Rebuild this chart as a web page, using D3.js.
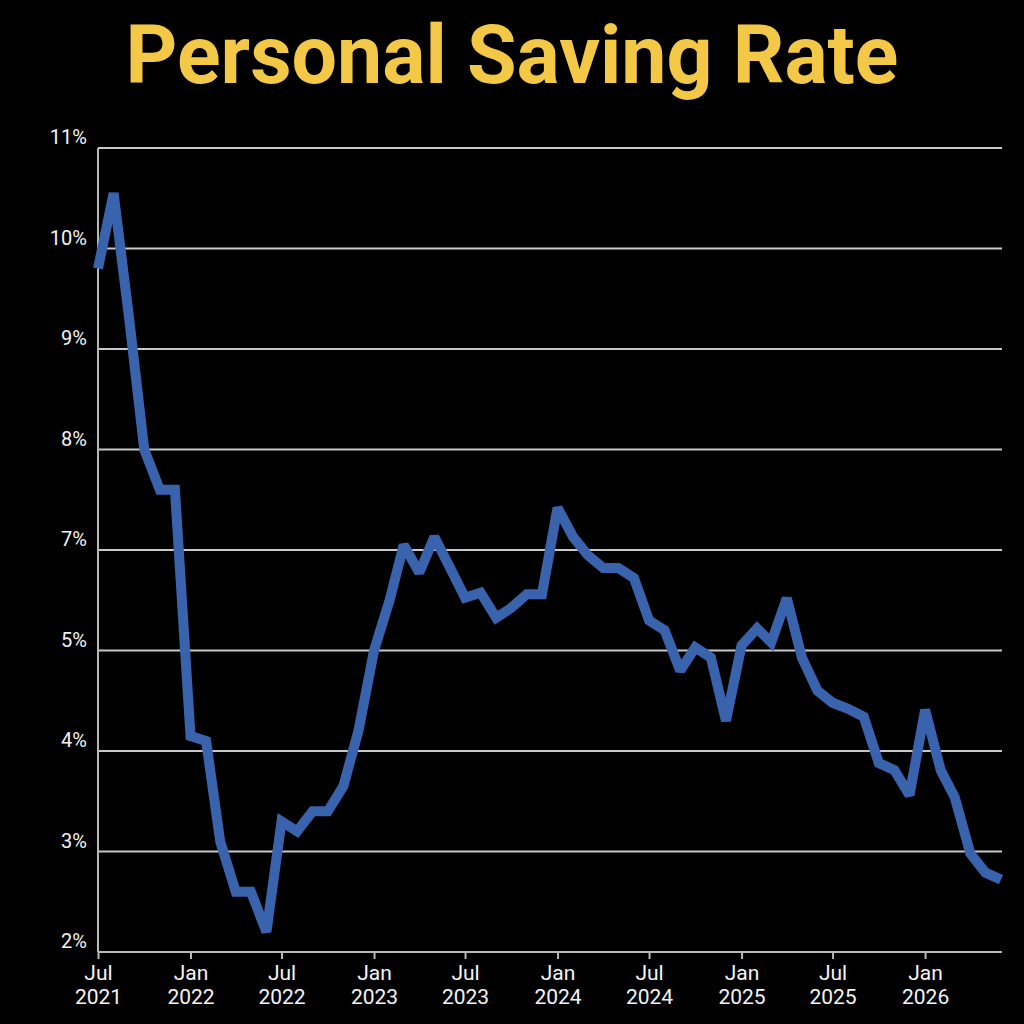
<!DOCTYPE html>
<html>
<head>
<meta charset="utf-8">
<script src="https://cdn.jsdelivr.net/npm/d3@7"></script>
<style>
  html, body { margin: 0; padding: 0; background: #000; }
  svg { display: block; }
</style>
</head>
<body>
<svg id="chart"></svg>
<script>
// data (monthly, Jul 2021 .. Jun 2026)
const startMonth = new Date(2021, 6, 1);
const endMonth = new Date(2026, 5, 1);
const savingRate = [
  9.8, 10.55, 9.3, 8.0, 7.6, 7.6, 4.15, 4.1, 3.1, 2.6, 2.6, 2.2,
  3.3, 3.2, 3.4, 3.4, 3.65, 4.2, 5.0, 6.0, 7.05, 6.55, 7.13, 6.65,
  6.05, 6.15, 5.65, 5.85, 6.12, 6.12, 7.42, 7.13, 6.9, 6.64, 6.64, 6.44,
  5.6, 5.4, 4.8, 5.06, 4.93, 4.3, 5.1, 5.44, 5.16, 6.04, 4.93, 4.6,
  4.48, 4.42, 4.34, 3.88, 3.81, 3.56, 4.41, 3.81, 3.54, 2.98, 2.79, 2.72
];
// y tick values as printed on the chart (note: no 6%)
const yTicks = [2, 3, 4, 5, 7, 8, 9, 10, 11];
const titleText = "Personal Saving Rate";

const months = d3.timeMonth.range(startMonth, d3.timeMonth.offset(endMonth, 1));
const data = months.map((m, i) => ({ date: m, value: savingRate[i] }));

const config = {
  width: 1024,
  height: 1024,
  margin: { top: 148, right: 22, bottom: 72, left: 98 }
};
const width = config.width - config.margin.left - config.margin.right;
const height = config.height - config.margin.top - config.margin.bottom;

const svg = d3.select('#chart')
    .attr('width', config.width)
    .attr('height', config.height)
    .style('background', '#000');

// Title, fitted to the reference width
const title = svg.append('text')
    .attr('x', config.width / 2)
    .attr('y', 83)
    .attr('text-anchor', 'middle')
    .style('font-family', 'Roboto, "Open Sans", sans-serif')
    .style('font-weight', 'bold')
    .style('font-size', '80px')
    .attr('fill', '#F3C846')
    .text(titleText);
const tw = title.node().getComputedTextLength();
title.style('font-size', (80 * 773 / tw) + 'px');

const chart = svg.append('g')
    .attr('transform', `translate(${config.margin.left},${config.margin.top})`);

const xScale = d3.scaleTime()
    .domain([startMonth, endMonth])
    .range([0, width - 1]);

// evenly spaced gridlines for the printed tick values
const step = height / (yTicks.length - 1);
const yScale = d3.scaleLinear()
    .domain(yTicks)
    .range(yTicks.map((d, i) => height - i * step));

// gridlines
chart.append('g')
    .selectAll('line')
    .data(yTicks.slice(1))
    .join('line')
    .attr('x1', 0)
    .attr('x2', width)
    .attr('y1', d => yScale(d))
    .attr('y2', d => yScale(d))
    .attr('stroke', '#c8c8c8')
    .attr('stroke-width', 2);

// y labels
chart.append('g')
    .selectAll('text')
    .data(yTicks)
    .join('text')
    .attr('x', -11)
    .attr('y', d => yScale(d) - 4)
    .attr('text-anchor', 'end')
    .style('font-family', 'Roboto, sans-serif')
    .style('font-size', '20px')
    .attr('fill', '#f2f2f2')
    .text(d => d + '%');

// y axis line
chart.append('line')
    .attr('x1', 0).attr('x2', 0)
    .attr('y1', 0).attr('y2', height)
    .attr('stroke', '#b8b8b8')
    .attr('stroke-width', 2);

// x axis
const xAxis = d3.axisBottom(xScale)
    .ticks(d3.timeMonth.every(6))
    .tickSize(7)
    .tickSizeOuter(0)
    .tickFormat('');

const xAxisG = chart.append('g')
    .attr('transform', `translate(0,${height})`)
    .call(xAxis);
xAxisG.select('.domain').attr('stroke', '#b8b8b8').attr('stroke-width', 2)
    .attr('d', `M0,0H${width}`);
xAxisG.selectAll('.tick line').attr('stroke', '#b8b8b8').attr('stroke-width', 2);

const tickLabels = xAxisG.selectAll('.tick')
    .append('text')
    .attr('fill', '#f4f4f4')
    .attr('text-anchor', 'middle')
    .style('font-family', 'Roboto, sans-serif')
    .style('font-size', '21px');
tickLabels.append('tspan')
    .attr('x', 0).attr('y', 28)
    .text(d => d3.timeFormat('%b')(d));
tickLabels.append('tspan')
    .attr('x', 0).attr('y', 52)
    .text(d => d3.timeFormat('%Y')(d));

// the line
const line = d3.line()
    .x(d => xScale(d.date))
    .y(d => yScale(d.value));

chart.append('path')
    .datum(data)
    .attr('fill', 'none')
    .attr('stroke', '#3A63AE')
    .attr('stroke-width', 10)
    .attr('stroke-linejoin', 'miter')
    .attr('stroke-miterlimit', 2)
    .attr('d', line);
</script>
</body>
</html>
